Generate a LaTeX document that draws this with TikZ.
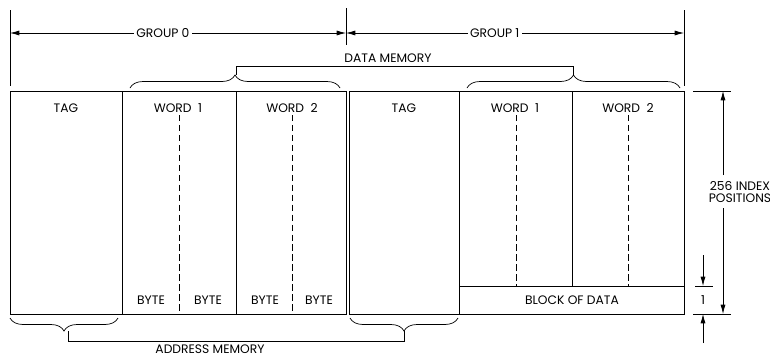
\documentclass[tikz,border=0pt]{standalone}
\usepackage{fontspec}
\setmainfont{Poppins}
\usetikzlibrary{arrows.meta, decorations.pathreplacing}

\begin{document}
\begin{tikzpicture}[
  x=0.03cm, y=-0.03cm, line width=0.6pt,
  lab/.style={font=\fontsize{10.5}{12}\selectfont, inner sep=1pt, align=center},
  dimarrow/.style={-{Latex[length=2.8mm,width=1.5mm]}},
  dimboth/.style={{Latex[length=2.8mm,width=1.5mm]}-{Latex[length=2.8mm,width=1.5mm]}},
  bytedash/.style={dash pattern=on 5.5pt off 3pt},
  curly/.style={decorate, decoration={brace, amplitude=0.39cm}},
]
  \useasboundingbox (0,0) rectangle (770,357);

  % Top: the two groups with their span arrows
  \coordinate (g0l) at (10,33);
  \coordinate (gmid) at (346,33);
  \coordinate (g1r) at (684,33);
  \draw (10,10) -- (10,86);
  \draw (346,8) -- (346,45);
  \draw (684,10) -- (684,86);
  \draw[dimboth] (g0l) -- node[lab, fill=white, pos=0.455, inner xsep=2pt] (grp0) {GROUP 0} (gmid);
  \draw[dimboth] (gmid) -- node[lab, fill=white, pos=0.44, inner xsep=2pt] (grp1) {GROUP 1} (g1r);

  % Data memory bracket over the words
  \draw[curly] (130,88) -- (340,88);
  \draw[curly] (467,88) -- (680,88);
  \coordinate (dm0) at (236,75);
  \coordinate (dm1) at (573,75);
  \coordinate (dmL) at (236,66);
  \coordinate (dmR) at (573,66);
  \draw (dm0) -- (dmL) -- (dmR) -- (dm1);
  \node[lab] (datamem) at (388,58) {DATA MEMORY};

  % Memory blocks
  \draw (10,91) rectangle (346,314);
  \draw (349,91) rectangle (684,314);
  \foreach \x in {122, 236, 459} {
    \draw (\x,91) -- (\x,314);
  }
  \draw (572,91) -- (572,286);
  \foreach \x in {179, 292} {
    \draw[bytedash] (\x,115) -- (\x,314);
  }
  \foreach \x in {516, 628} {
    \draw[bytedash] (\x,115) -- (\x,286);
  }
  \draw (459,286) -- (684,286);

  \node[lab] (tag0) at (66,108) {TAG};
  \node[lab] (tag1) at (404,108) {TAG};
  \foreach \x/\lab/\nm in {178/{WORD\ \ 1}/w01, 292/{WORD\ \ 2}/w02, 515/{WORD\ \ 1}/w11, 628/{WORD\ \ 2}/w12} {
    \node[lab] (\nm) at (\x,108) {\lab};
  }
  \foreach \x/\nm in {151/b1, 208/b2, 265/b3, 319/b4} {
    \node[lab] (\nm) at (\x,300) {BYTE};
  }
  \node[lab] (block) at (572,300) {BLOCK OF DATA};

  % Address memory bracket under the tags
  \draw[curly] (118,318) -- (10,318);
  \draw[curly] (458,318) -- (350,318);
  \coordinate (am0) at (68,331);
  \coordinate (am1) at (404,331);
  \coordinate (amL) at (68,341);
  \coordinate (amR) at (404,341);
  \draw (am0) -- (amL) -- (amR) -- (am1);
  \node[lab] (addrmem) at (210,349) {ADDRESS MEMORY};

  % Right: index dimensions
  \draw (693,91) -- (731,91);
  \draw (695,286) -- (713,286);
  \draw (693,314) -- (731,314);
  \node[lab] (index) at (740,192) {256 INDEX\\[-2pt]POSITIONS};
  \coordinate (ixtop) at (723,91);
  \coordinate (ixbot) at (723,314);
  \draw[dimarrow] (723,175) -- (ixtop);
  \draw[dimarrow] (723,208) -- (ixbot);
  \coordinate (onetop) at (703,286);
  \coordinate (onebot) at (703,314);
  \draw[dimarrow] (703,255) -- (onetop);
  \draw[dimarrow] (703,343) -- (onebot);
  \node[lab] (one) at (703,300) {1};
\end{tikzpicture}
\end{document}
